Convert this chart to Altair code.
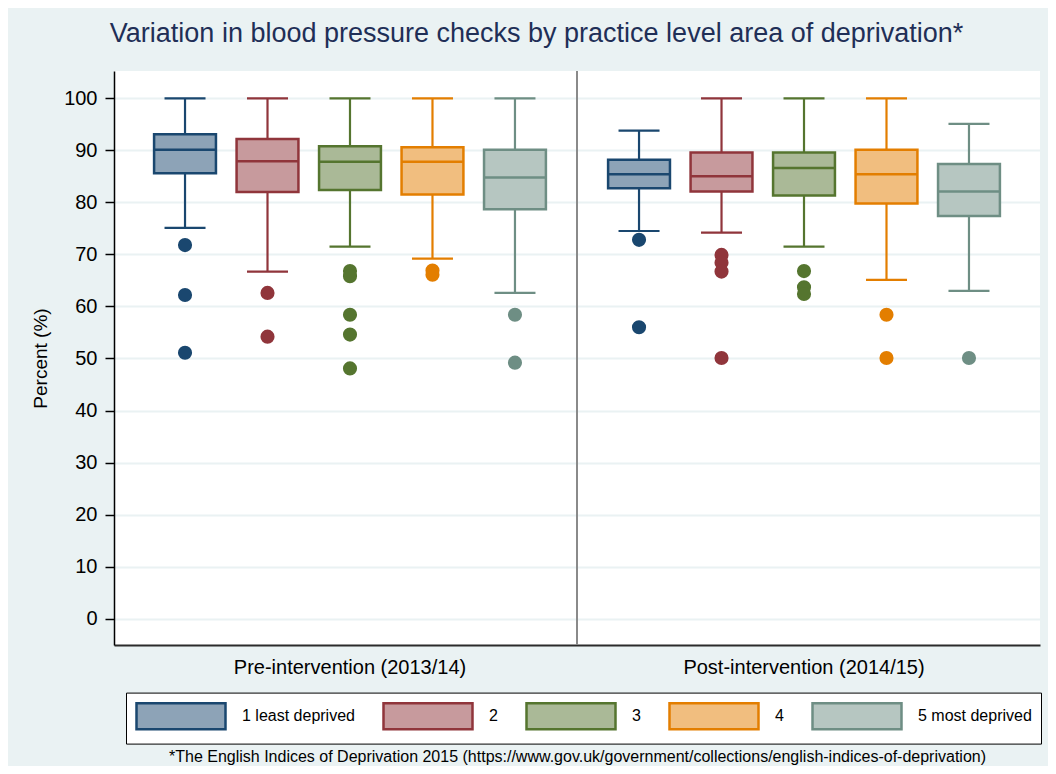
import altair as alt
import pandas as pd

groups = ["1 least deprived", "2", "3", "4", "5 most deprived"]
periods = ["Pre-intervention (2013/14)", "Post-intervention (2014/15)"]

dark_colors = ["#1A476F", "#90353B", "#55752F", "#E37E00", "#6E8E84"]
light_colors = ["#8DA3B7", "#C79A9D", "#AAB997", "#F1BE7F", "#B6C6C1"]

# Pre-intervention (2013/14)
pre_lower = [75.1, 66.7, 71.5, 69.2, 62.6]
pre_q1 = [85.6, 82.0, 82.4, 81.5, 78.7]
pre_median = [90.1, 87.9, 87.8, 87.8, 84.8]
pre_q3 = [93.1, 92.2, 90.8, 90.6, 90.1]
pre_upper = [100, 100, 100, 100, 100]
pre_outliers = [
    [71.8, 62.2, 51.1],
    [62.6, 54.2],
    [66.8, 65.8, 58.4, 54.6, 48.1],
    [66.9, 66.1],
    [58.4, 49.2],
]

# Post-intervention (2014/15)
post_lower = [74.5, 74.2, 71.5, 65.1, 63.0]
post_q1 = [82.7, 82.1, 81.3, 79.8, 77.4]
post_median = [85.4, 85.0, 86.6, 85.4, 82.1]
post_q3 = [88.2, 89.6, 89.6, 90.1, 87.4]
post_upper = [93.8, 100, 100, 100, 95.1]
post_outliers = [
    [72.8, 56.0],
    [69.9, 68.4, 66.7, 50.1],
    [66.8, 63.7, 62.4],
    [58.4, 50.1],
    [50.1],
]

y_ticks = [0, 10, 20, 30, 40, 50, 60, 70, 80, 90, 100]
footnote = "*The English Indices of Deprivation 2015 (https://www.gov.uk/government/collections/english-indices-of-deprivation)"
title_text = "Variation in blood pressure checks by practice level area of deprivation*"

rows = []
for p, lo, q1, md, q3, up in [
    (periods[0], pre_lower, pre_q1, pre_median, pre_q3, pre_upper),
    (periods[1], post_lower, post_q1, post_median, post_q3, post_upper),
]:
    for i, g in enumerate(groups):
        rows.append(dict(period=p, group=g, lower=lo[i], q1=q1[i],
                         median=md[i], q3=q3[i], upper=up[i]))
box_df = pd.DataFrame(rows)

orows = []
for p, outs in [(periods[0], pre_outliers), (periods[1], post_outliers)]:
    for i, g in enumerate(groups):
        for v in outs[i]:
            orows.append(dict(period=p, group=g, value=v))
out_df = pd.DataFrame(orows)

FONT = "Liberation Sans"

x_axis = alt.Axis(title=footnote, domain=True, domainColor="#2b2b2b", domainWidth=2,
                  ticks=False, labelFontSize=20, labelPadding=12, labelColor="black",
                  labelAngle=0, labelLimit=600, grid=False, titleFontSize=16,
                  titleFontWeight="normal", titleColor="black", titlePadding=71,
                  titleLimit=2000, labelFont=FONT, titleFont=FONT)
x_scale = alt.Scale(paddingInner=0, paddingOuter=0.0198)
y_axis = alt.Axis(title="Percent (%)", values=y_ticks, domain=True, domainColor="black",
                  domainWidth=1.5, tickColor="black", tickSize=9, tickWidth=1.5,
                  labelFontSize=20, labelPadding=8, labelColor="black",
                  grid=True, gridColor="#EAF2F3", gridWidth=2,
                  titleFontSize=19, titleFontWeight="normal", titleColor="black",
                  titlePadding=13, labelFont=FONT, titleFont=FONT)
y_scale = alt.Scale(domain=[-5.06, 105.25], nice=False, zero=False)


def X():
    return alt.X("period:N", sort=periods, scale=x_scale, axis=x_axis)


def XO():
    return alt.XOffset("group:N", sort=groups,
                       scale=alt.Scale(paddingInner=0.25, paddingOuter=0.377))


def Y(field):
    return alt.Y(f"{field}:Q", scale=y_scale, axis=y_axis, title="Percent (%)")


legend = alt.Legend(title=None, orient="none", legendX=12, legendY=621.6,
                    direction="horizontal", columns=5,
                    symbolType="M-1,-1H5.846V1H-1Z", symbolSize=676,
                    symbolStrokeWidth=2.5, symbolOpacity=1,
                    labelFontSize=16, labelOffset=78, labelColor="black",
                    labelFont=FONT, labelLimit=400,
                    columnPadding=23, padding=9,
                    strokeColor="black", fillColor="white")

stroke_enc = alt.Stroke("group:N", sort=groups,
                        scale=alt.Scale(domain=groups, range=dark_colors),
                        legend=legend, title=None)
fill_enc = alt.Fill("group:N", sort=groups,
                    scale=alt.Scale(domain=groups, range=light_colors),
                    legend=legend, title=None)
dot_color = alt.Color("group:N", sort=groups,
                      scale=alt.Scale(domain=groups, range=dark_colors),
                      legend=None, title=None)

base = alt.Chart(box_df)

divider = alt.Chart(alt.Data(values=[{}])).mark_rule(color="#8a8a8a", strokeWidth=2).encode(
    x=alt.XDatum(periods[1], type="nominal", bandPosition=0, scale=x_scale, axis=x_axis)
)

whiskers = base.mark_rule(strokeWidth=2.2).encode(
    x=X(), xOffset=XO(), y=Y("lower"), y2="upper:Q", stroke=stroke_enc)

cap_top = base.mark_bar(width=41, strokeWidth=2.2, fillOpacity=0).encode(
    x=X(), xOffset=XO(), y=Y("upper"), y2="upper:Q", stroke=stroke_enc)

cap_bottom = base.mark_bar(width=41, strokeWidth=2.2, fillOpacity=0).encode(
    x=X(), xOffset=XO(), y=Y("lower"), y2="lower:Q", stroke=stroke_enc)

boxes = base.mark_bar(strokeWidth=2.5).encode(
    x=X(), xOffset=XO(), y=Y("q1"), y2="q3:Q", fill=fill_enc, stroke=stroke_enc)

medians = base.mark_bar(strokeWidth=2.5, fillOpacity=0).encode(
    x=X(), xOffset=XO(), y=Y("median"), y2="median:Q", stroke=stroke_enc)

outliers = alt.Chart(out_df).mark_circle(size=200, opacity=1).encode(
    x=X(), xOffset=XO(), y=Y("value"), color=dot_color)

chart = alt.layer(divider, whiskers, cap_top, cap_bottom, boxes, medians, outliers).properties(
    width=926, height=574,
    autosize=alt.AutoSizeParams(type="none"),
    padding={"left": 106, "top": 63, "right": 8, "bottom": 121},
    background="#EAF2F3",
    title=alt.Title(title_text, fontSize=27, font=FONT, fontWeight="normal",
                    color="#1F2F57", anchor="middle", frame="bounds", offset=22),
).configure_view(fill="white", stroke=None)

chart.save("out.html", embed_options={"renderer": "svg", "actions": False})
